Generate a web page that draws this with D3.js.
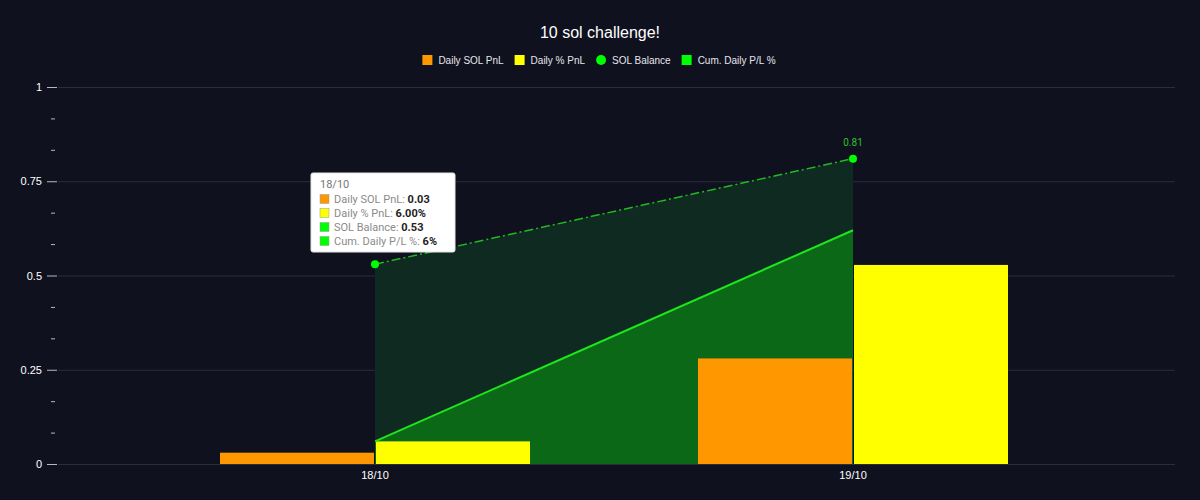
<!DOCTYPE html>
<html><head><meta charset="utf-8">
<script src="https://cdn.jsdelivr.net/npm/d3@7"></script>
<style>
html,body{margin:0;padding:0;background:#10111f;}
svg{display:block;font-family:Roboto,"Liberation Sans",Arial,sans-serif;}
</style></head>
<body>
<svg id="c" width="1200" height="500"></svg>
<script>
const categories = ["18/10", "19/10"];
const dailySolPnl = [0.03, 0.28];
const dailyPctPnl = [0.06, 0.528];
const solBalance = [0.53, 0.81];
const cumDailyPct = [0.06, 0.62];
const yMajorTicks = [0, 0.25, 0.5, 0.75, 1];
const seriesNames = ["Daily SOL PnL", "Daily % PnL", "SOL Balance", "Cum. Daily P/L %"];
const seriesColors = ["#ff9800", "#ffff00", "#00ff00", "#00ff00"];

const svg = d3.select("#c");
const W = 1200, H = 500;
const plotL = 58, plotR = 1175, plotT = 87, plotB = 464;

svg.append("rect").attr("width", W).attr("height", H).attr("fill", "#10111f");

const y = d3.scaleLinear().domain([0, 1]).range([plotB, plotT]);
const x = d3.scaleBand().domain(categories).range([136, 1092]).paddingInner(0).paddingOuter(0);
const cx = d => x(d) + x.bandwidth() / 2;
const bw = 154;

// gridlines
svg.append("g").selectAll("line").data(yMajorTicks).join("line")
  .attr("x1", plotL).attr("x2", plotR)
  .attr("y1", d => y(d) + 0.5).attr("y2", d => y(d) + 0.5)
  .attr("stroke", "#2b2d3c").attr("stroke-width", 1);

// y axis
const yAxis = d3.axisLeft(y).tickValues(yMajorTicks).tickSize(10).tickPadding(5)
  .tickFormat(d => d3.format("~g")(d));
const ga = svg.append("g").attr("transform", `translate(${plotL - 1},0)`).call(yAxis);
ga.select(".domain").remove();
ga.selectAll(".tick line").attr("stroke", "#b8b9c0");
ga.selectAll(".tick text").attr("fill", "#ffffff").attr("font-size", 11)
  .attr("font-family", "Arial,'Liberation Sans',sans-serif");
const minor = d3.range(0, 12).map(i => i / 12).filter(v => Math.round(v * 12) % 3 !== 0);
svg.append("g").selectAll("line").data(minor).join("line")
  .attr("x1", 51).attr("x2", 55)
  .attr("y1", d => y(d) + 0.5).attr("y2", d => y(d) + 0.5)
  .attr("stroke", "#b8b9c0").attr("stroke-width", 1);

// x axis labels
svg.append("g").selectAll("text").data(categories).join("text")
  .attr("x", d => cx(d)).attr("y", 479).attr("text-anchor", "middle")
  .attr("fill", "#ffffff").attr("font-size", 11)
  .attr("font-family", "Arial,'Liberation Sans',sans-serif")
  .text(d => d);

// areas
const balData = categories.map((c, i) => [cx(c), solBalance[i]]);
const cumData = categories.map((c, i) => [cx(c), cumDailyPct[i]]);
const area = d3.area().x(d => d[0]).y0(y(0)).y1(d => y(d[1]));
const line = d3.line().x(d => d[0]).y(d => y(d[1]));
svg.append("path").attr("d", area(balData)).attr("fill", "#0f2a20");
svg.append("path").attr("d", area(cumData)).attr("fill", "#0b6816");

// bars
const barsG = svg.append("g");
categories.forEach((c, i) => {
  barsG.append("rect").attr("x", cx(c) - bw - 1).attr("y", y(dailySolPnl[i]))
    .attr("width", bw).attr("height", y(0) - y(dailySolPnl[i]))
    .attr("fill", seriesColors[0]);
  barsG.append("rect").attr("x", cx(c) + 1).attr("y", y(dailyPctPnl[i]))
    .attr("width", bw).attr("height", y(0) - y(dailyPctPnl[i]))
    .attr("fill", seriesColors[1]);
});

// lines
svg.append("path").attr("d", line(cumData)).attr("fill", "none")
  .attr("stroke", "#1ee61e").attr("stroke-width", 2);
svg.append("path").attr("d", line(balData)).attr("fill", "none")
  .attr("stroke", "#22b822").attr("stroke-width", 1.5).attr("stroke-dasharray", "9,3,2,3");
svg.append("g").selectAll("circle").data(balData).join("circle")
  .attr("cx", d => d[0]).attr("cy", d => y(d[1])).attr("r", 4)
  .attr("fill", "#00ff00");

// data label
svg.append("text").attr("x", balData[1][0]).attr("y", y(solBalance[1]) - 13)
  .attr("text-anchor", "middle").attr("fill", "#2fc02f").attr("font-size", 10)
  .text(d3.format(".2f")(solBalance[1]));

// title
svg.append("text").attr("x", 600).attr("y", 38).attr("text-anchor", "middle")
  .attr("fill", "#ffffff").attr("font-size", 16)
  .attr("font-family", "Arial,'Liberation Sans',sans-serif")
  .text("10 sol challenge!");

// legend (laid out sequentially, centred)
const leg = svg.append("g").attr("font-family", "Arial,'Liberation Sans',sans-serif");
const items = seriesNames.map((n, i) => {
  const g = leg.append("g");
  if (i === 2) {
    g.append("circle").attr("cx", 5).attr("cy", 60).attr("r", 5).attr("fill", seriesColors[i]);
  } else {
    g.append("rect").attr("x", 0).attr("y", 55).attr("width", 10).attr("height", 10)
      .attr("fill", seriesColors[i]);
  }
  const t = g.append("text").attr("x", 16).attr("y", 64).attr("fill", "#e6e6ea")
    .attr("font-size", 10).text(n);
  const w = 16 + t.node().getComputedTextLength();
  return {g, w};
});
const gap = 11;
const total = d3.sum(items, d => d.w) + gap * (items.length - 1);
let lx = 599 - total / 2;
items.forEach(it => { it.g.attr("transform", `translate(${lx},0)`); lx += it.w + gap; });

// tooltip
const tt = svg.append("g").attr("transform", "translate(311,173)");
tt.append("rect").attr("width", 144).attr("height", 79).attr("rx", 2)
  .attr("fill", "#ffffff").attr("stroke", "#e3e3e3");
tt.append("text").attr("x", 9).attr("y", 15).attr("fill", "#777").attr("font-size", 11).text(categories[0]);
const ttVals = [d3.format(".2f")(dailySolPnl[0]), d3.format(".2%")(dailyPctPnl[0]),
  d3.format(".2f")(solBalance[0]), d3.format(".0%")(cumDailyPct[0])];
const ttColors = ["#ff9800", "#ffff00", "#00ff00", "#00ff00"];
seriesNames.forEach((n, i) => {
  const yy = 26 + i * 14;
  tt.append("rect").attr("x", 9).attr("y", yy - 4.5).attr("width", 9).attr("height", 9)
    .attr("fill", ttColors[i]).attr("stroke", "#999").attr("stroke-width", 0.5);
  const t = tt.append("text").attr("x", 23).attr("y", yy + 4).attr("font-size", 11);
  t.append("tspan").attr("fill", "#8a8a8a").text(n + ": ");
  t.append("tspan").attr("fill", "#222").attr("font-weight", "bold").text(ttVals[i]);
});
</script>
</body></html>
